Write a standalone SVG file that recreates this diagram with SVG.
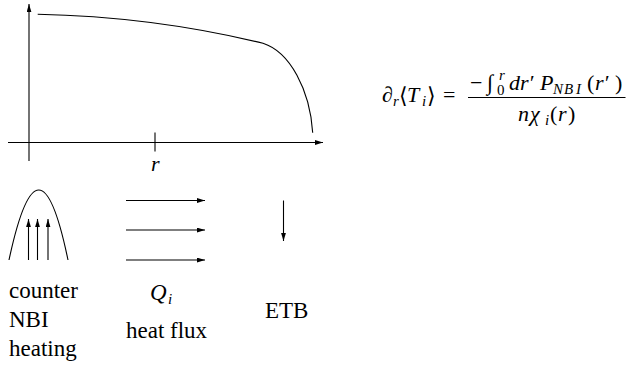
<svg xmlns="http://www.w3.org/2000/svg" width="626" height="371" viewBox="0 0 626 371">
<style>
.ln{fill:none;stroke:#000;stroke-width:1.1}
.t{font-size:23px;fill:#000}
.m{font-size:22px;fill:#000}
.i{font-style:italic}
.s{font-size:15px}
</style>
<defs>
<marker id="ah" viewBox="0 0 10 6" refX="10" refY="3" markerWidth="8" markerHeight="5" markerUnits="userSpaceOnUse" orient="auto">
<path d="M0,0 L10,3 L0,6 Z" fill="#000"/>
</marker>
</defs>
<g id="axes">
<line class="ln" x1="29" y1="161" x2="29" y2="4" marker-end="url(#ah)"/>
<line class="ln" x1="8" y1="142.5" x2="323" y2="142.5" marker-end="url(#ah)"/>
<line class="ln" x1="155" y1="132.5" x2="155" y2="151.5"/>
<text class="m i" font-family="Liberation Serif" x="151" y="171">r</text>
</g>
<g id="profile">
<path class="ln" d="M37.7,14.3 C120,16 200,28 263,43.3 C290,52 310,90 312.7,132.7"/>
</g>
<g id="formula">
<text class="m" font-family="Liberation Serif" x="382" y="102">∂</text>
<text class="m i s" font-family="Liberation Serif" x="393" y="106">r</text>
<text class="m" font-family="DejaVu Serif" font-size="20" x="399" y="103">⟨</text>
<text class="m i" font-family="Liberation Serif" x="407" y="102">T</text>
<text class="m i s" font-family="Liberation Serif" x="422" y="106">i</text>
<text class="m" font-family="DejaVu Serif" font-size="20" x="427" y="103">⟩</text>
<text class="m" font-family="Liberation Serif" x="443" y="102" font-size="24">=</text>
<line class="ln" x1="468" y1="97.5" x2="625.5" y2="97.5"/>
<text class="m" font-family="Liberation Serif" x="470" y="90">−</text>
<text class="m" font-family="Liberation Serif" x="487" y="90">∫</text>
<text class="m s" font-family="Liberation Serif" x="497" y="95">0</text>
<text class="m i s" font-family="Liberation Serif" x="499" y="80">r</text>
<text class="m i" font-family="Liberation Serif" x="509" y="90">dr′</text>
<text class="m i" font-family="Liberation Serif" x="540" y="90">P</text>
<text class="m i s" font-family="Liberation Serif" x="553 564 576" y="94">NBI</text>
<text class="m" font-family="Liberation Serif" x="587" y="90">(</text>
<text class="m i" font-family="Liberation Serif" x="595" y="90">r′</text>
<text class="m" font-family="Liberation Serif" x="615" y="90">)</text>
<text class="m i" font-family="Liberation Serif" x="518" y="121">n</text>
<text class="m i" font-family="Liberation Serif" x="530" y="121">χ</text>
<text class="m i s" font-family="Liberation Serif" x="545" y="125">i</text>
<text class="m" font-family="Liberation Serif" x="550" y="121">(</text>
<text class="m i" font-family="Liberation Serif" x="558" y="121">r</text>
<text class="m" font-family="Liberation Serif" x="568" y="121">)</text>
</g>
<g id="nbi">
<path class="ln" d="M9,260 Q39,120 68,260"/>
<line class="ln" x1="28.5" y1="260" x2="28.5" y2="219" marker-end="url(#ah)"/>
<line class="ln" x1="37.5" y1="260" x2="37.5" y2="219" marker-end="url(#ah)"/>
<line class="ln" x1="48" y1="260" x2="48" y2="219" marker-end="url(#ah)"/>
<text class="t" font-family="Liberation Serif" x="9" y="298">counter</text>
<text class="t" font-family="Liberation Serif" x="9" y="327">NBI</text>
<text class="t" font-family="Liberation Serif" x="9" y="356">heating</text>
</g>
<g id="flux">
<line class="ln" x1="126" y1="200.5" x2="205" y2="200.5" marker-end="url(#ah)"/>
<line class="ln" x1="126" y1="230" x2="205" y2="230" marker-end="url(#ah)"/>
<line class="ln" x1="126" y1="260" x2="205" y2="260" marker-end="url(#ah)"/>
<text class="t i" font-family="Liberation Serif" x="150" y="300">Q</text>
<text class="t i s" font-family="Liberation Serif" x="168" y="304">i</text>
<text class="t" font-family="Liberation Serif" x="126" y="338">heat flux</text>
</g>
<g id="etb">
<line class="ln" x1="283.5" y1="200.5" x2="283.5" y2="241" marker-end="url(#ah)"/>
<text class="t" font-family="Liberation Serif" x="265" y="318">ETB</text>
</g>
</svg>
